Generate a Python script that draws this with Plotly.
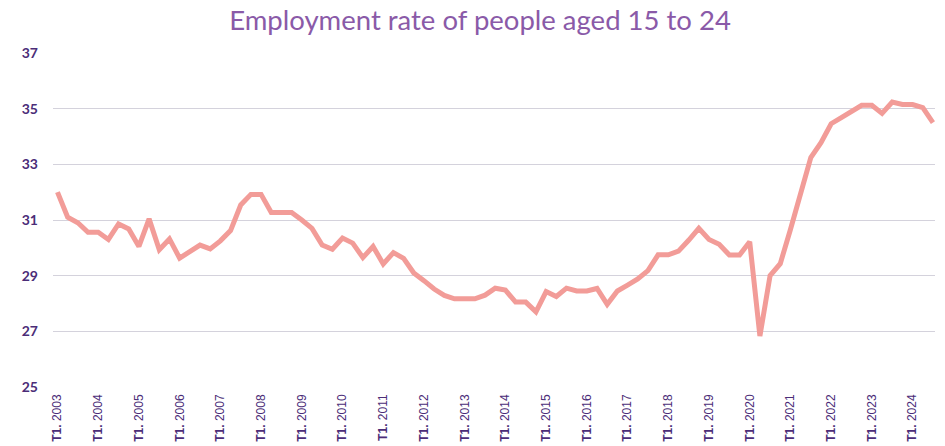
import plotly.graph_objects as go

# Quarterly employment rate (%) of people aged 15 to 24, T1 2003 onwards
quarters = [f"T{q}. {y}" for y in range(2003, 2025) for q in range(1, 5)][:87]
rate = [
    32.0, 31.1, 30.9, 30.56,      # 2003
    30.56, 30.3, 30.86, 30.68,    # 2004
    30.05, 31.04, 29.93, 30.32,   # 2005
    29.63, 29.85, 30.1, 29.96,    # 2006
    30.25, 30.62, 31.54, 31.92,   # 2007
    31.92, 31.27, 31.27, 31.27,   # 2008
    31.0, 30.7, 30.1, 29.95,      # 2009
    30.35, 30.17, 29.65, 30.05,   # 2010
    29.42, 29.83, 29.62, 29.1,    # 2011
    28.82, 28.52, 28.29, 28.17,   # 2012
    28.17, 28.17, 28.3, 28.55,    # 2013
    28.48, 28.05, 28.05, 27.7,    # 2014
    28.43, 28.25, 28.55, 28.45,   # 2015
    28.45, 28.54, 27.97, 28.45,   # 2016
    28.66, 28.88, 29.18, 29.75,   # 2017
    29.75, 29.88, 30.27, 30.7,    # 2018
    30.3, 30.13, 29.74, 29.74,    # 2019
    30.22, 26.83, 29.0, 29.43,    # 2020
    30.66, 31.98, 33.24, 33.78,   # 2021
    34.46, 34.68, 34.88, 35.12,   # 2022
    35.12, 34.83, 35.24, 35.15,   # 2023
    35.15, 35.04, 34.5,           # 2024
]
y_ticks = [25, 27, 29, 31, 33, 35, 37]

idx = list(range(len(rate)))
tick_idx = [i for i, q in enumerate(quarters) if q.startswith("T1.")]
tick_txt = [f"<b>T1.</b> {quarters[i].split(' ')[1]}" for i in tick_idx]

fig = go.Figure(
    go.Scatter(
        x=idx,
        y=rate,
        mode="lines",
        line=dict(color="#f29c98", width=5, shape="linear"),
        hovertext=quarters,
        hoverinfo="text+y",
    )
)

fig.update_layout(
    width=945,
    height=446,
    margin=dict(l=53, r=10, t=53, b=59),
    paper_bgcolor="white",
    plot_bgcolor="white",
    showlegend=False,
    title=dict(
        text="Employment rate of people aged 15 to 24",
        font=dict(family="Lato", size=27.5, color="#8a5aa8"),
        x=0.508,
        xanchor="center",
        y=0.955,
        yanchor="middle",
        xref="container",
        yref="container",
    ),
)

fig.update_xaxes(
    range=[-0.44, 86.2],
    tickmode="array",
    tickvals=tick_idx,
    ticktext=tick_txt,
    tickangle=-90,
    tickfont=dict(family="Liberation Sans", size=12, color="#4b2d78"),
    showgrid=False,
    zeroline=False,
    showline=False,
    ticks="",
    ticklabelstandoff=4,
    automargin=False,
)

fig.update_yaxes(
    range=[25, 37],
    tickmode="array",
    tickvals=y_ticks,
    ticktext=[str(v) for v in y_ticks],
    tickfont=dict(family="Lato", size=14, color="#4b2d78", weight="bold"),
    showgrid=True,
    gridcolor="#d4d2dc",
    gridwidth=1.2,
    zeroline=False,
    showline=False,
    ticks="",
    ticklabelstandoff=14,
    automargin=False,
)

fig.write_html("out.html")
